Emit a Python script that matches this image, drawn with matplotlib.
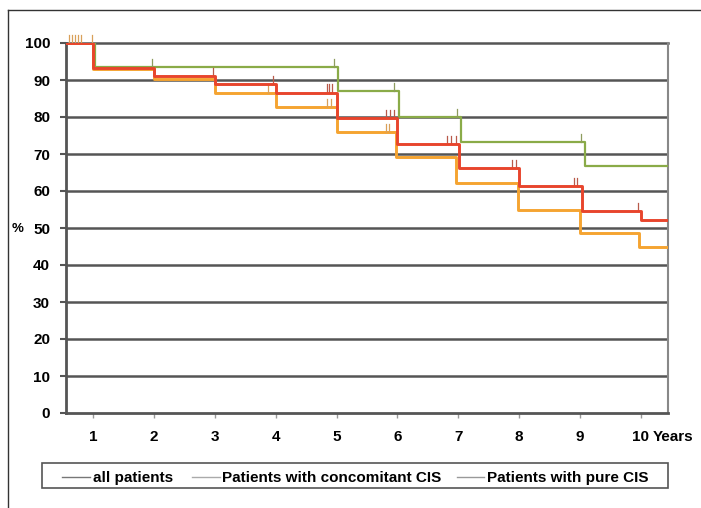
import matplotlib
matplotlib.use("Agg")
import matplotlib.pyplot as plt
from matplotlib.lines import Line2D
from matplotlib.patches import Rectangle
import numpy as np

plt.rcParams['font.family'] = ['Liberation Sans', 'DejaVu Sans']

# ---- data ----
years = [1, 2, 3, 4, 5, 6, 7, 8, 9, 10]
y_ticks = [0, 10, 20, 30, 40, 50, 60, 70, 80, 90, 100]

all_t = [0, 1, 2, 3, 4, 5, 6, 7.02, 8.0, 9.03, 10.0]
all_s = [100, 93.2, 91.1, 88.9, 86.6, 79.8, 72.7, 66.1, 61.4, 54.6, 52.2]

conc_t = [0, 1, 2, 3, 4, 5, 5.98, 6.97, 7.99, 9.0, 9.98]
conc_s = [100, 92.9, 90.2, 86.6, 82.8, 76.0, 69.3, 62.1, 55.0, 48.6, 44.8]

pure_t = [0, 1.03, 5.02, 6.03, 7.05, 9.08]
pure_s = [100, 93.5, 87.0, 80.0, 73.3, 66.8]

# censoring times
all_cens = [2.96, 3.95, 4.84, 4.88, 4.93, 5.82, 5.88, 5.95, 6.81, 6.88, 6.96, 7.89, 7.95, 8.9, 8.96, 9.95]
conc_cens = [0.6, 0.65, 0.7, 0.75, 0.8, 0.97, 3.88, 4.84, 4.9, 5.82, 5.87]
pure_cens = [1.97, 4.95, 5.95, 6.98, 9.02]

labels = ['all patients', 'Patients with concomitant CIS', 'Patients with pure CIS']

# ---- style ----
c_all = '#e8452c'
c_conc = '#f5a431'
c_pure = '#8aab48'
grid_c = '#555555'
FS = 11
W, H = 701, 508

fig = plt.figure(figsize=(W/100, H/100), dpi=100)
ax = fig.add_axes([66/W, 1-413/H, (668-66)/W, (413-43)/H])

XMIN, XMAX = 0.55, 10.45
ax.set_xlim(XMIN, XMAX)
ax.set_ylim(0, 100)

for yv in y_ticks[1:-1]:
    ax.axhline(yv, color=grid_c, lw=1.8, zorder=1)
ax.axhline(100, color=grid_c, lw=1.8, zorder=1, clip_on=False)


def step_line(t, s, color, lw, z):
    tt = list(t) + [XMAX + 1]
    ss = list(s) + [s[-1]]
    ax.step(tt, ss, where='post', color=color, lw=lw, zorder=z, clip_on=True)


def level_at(t, s, x):
    idx = np.searchsorted(np.array(t), x, side='right') - 1
    return s[max(idx, 0)]


def censor(t, s, cens, color):
    for x in cens:
        yv = level_at(t, s, x)
        ax.plot([x, x], [yv, yv + 2.2], color=color, lw=0.9, zorder=4, clip_on=False)


step_line(pure_t, pure_s, c_pure, 1.6, 3)
step_line(conc_t, conc_s, c_conc, 2.1, 4)
step_line(all_t, all_s, c_all, 2.1, 5)

censor(pure_t, pure_s, pure_cens, '#8e9c5e')
censor(conc_t, conc_s, conc_cens, '#d9a05a')
censor(all_t, all_s, all_cens, '#b85a4a')

# spines
ax.spines['top'].set_visible(False)
ax.spines['left'].set_color(grid_c)
ax.spines['left'].set_linewidth(2.0)
ax.spines['bottom'].set_color(grid_c)
ax.spines['bottom'].set_linewidth(2.0)
ax.spines['right'].set_color('#888888')
ax.spines['right'].set_linewidth(1.5)

ax.set_yticks(y_ticks)
ax.set_yticklabels([str(v) for v in y_ticks], fontsize=FS, fontweight='bold')
ax.set_xticks(years)
ax.set_xticklabels([str(v) for v in years], fontsize=FS, fontweight='bold')
ax.tick_params(axis='y', direction='out', length=4.5, width=1.5, color=grid_c, pad=7)
ax.tick_params(axis='x', direction='out', length=3.5, width=1.0, color='#999999', pad=9)

ax.annotate('Years', xy=(10, 0), xycoords='data', xytext=(9, -17.5),
            textcoords='offset points', fontsize=FS, fontweight='bold',
            ha='left', va='center', annotation_clip=False)

fig.text(18/W, 1-229/H, '%', fontsize=9.5, fontweight='bold',
         ha='center', va='center')


# ---- legend (drawn in figure pixel layout) ----
def fx(px):
    return px / W


def fy(py):
    return 1 - py / H


box_l, box_r, box_t, box_b = 42, 668, 463, 488
fig.add_artist(Rectangle((fx(box_l), fy(box_b)), fx(box_r - box_l), (box_b - box_t)/H,
                         transform=fig.transFigure, fill=False,
                         edgecolor='#555555', lw=1.2))
handle_cols = ['#777777', '#aaaaaa', '#999999']
handle_x = [(62, 90), (192, 220), (457, 484)]
text_x = [93, 222, 487]
for lab, hc, (h0, h1), tx in zip(labels, handle_cols, handle_x, text_x):
    fig.add_artist(Line2D([fx(h0), fx(h1)], [fy(477), fy(477)],
                          transform=fig.transFigure, color=hc, lw=1.0))
    fig.text(fx(tx), fy(482), lab, fontsize=FS, fontweight='bold',
             ha='left', va='baseline')

# outer frame (top and left)
fig.add_artist(Line2D([fx(8), 1.0], [fy(10), fy(10)], transform=fig.transFigure,
                      color='#333333', lw=1.0))
fig.add_artist(Line2D([fx(8), fx(8)], [0, fy(10)], transform=fig.transFigure,
                      color='#333333', lw=1.0))

fig.savefig('out.png', dpi=100)
